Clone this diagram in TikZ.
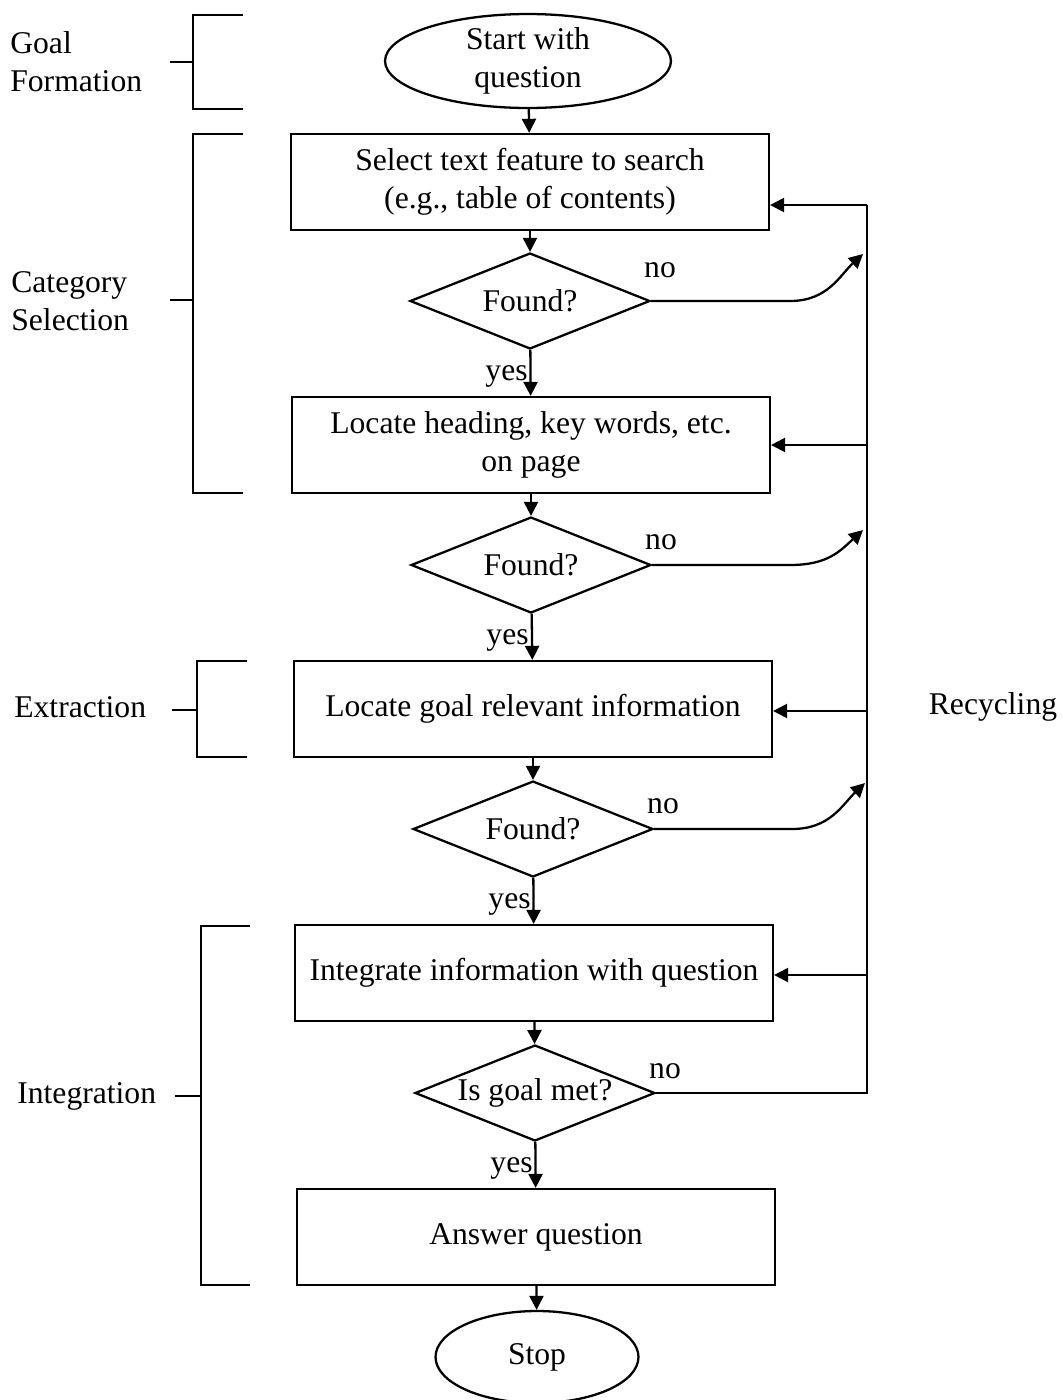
\documentclass[tikz,border=0pt]{standalone}
\usepackage{fontspec}
\setmainfont{Liberation Serif}
\usetikzlibrary{shapes.geometric,arrows.meta}
\begin{document}
\begin{tikzpicture}[x=0.02cm,y=-0.02cm,
  every node/.style={font=\fontsize{18}{21.5}\selectfont, align=center, inner sep=0pt},
  line/.style={line width=1.3pt},
  arr/.style={line width=1.3pt,-{Triangle[length=8pt,width=8pt]}},
  stepbox/.style={draw, line width=1.3pt, rectangle, minimum width=9.56cm, minimum height=1.92cm},
  decide/.style={draw, line width=1.3pt, diamond, aspect=2.5, minimum width=4.8cm, minimum height=1.92cm},
  terminal/.style={draw, line width=1.3pt, ellipse},
  lbl/.style={font=\fontsize{18}{21.5}\selectfont}]
\useasboundingbox (0,0) rectangle (1062,1400);

% main flow
\node[terminal, minimum width=5.72cm, minimum height=1.76cm] (start) at (528,61) {Start with\\question};
\node[stepbox] (b1) at (530,182) {Select text feature to search\\(e.g., table of contents)};
\node[decide] (d1) at (530,301) {Found?};
\node[stepbox] (b2) at (531,445) {Locate heading, key words, etc.\\on page};
\node[decide] (d2) at (531,565) {Found?};
\node[stepbox] (b3) at (533,709) {\strut Locate goal relevant information};
\node[decide] (d3) at (533,829) {Found?};
\node[stepbox] (b4) at (534,973) {\strut Integrate information with question};
\node[decide] (d4) at (535,1093) {Is goal met?};
\node[stepbox] (b5) at (536,1237) {\strut Answer question};
\node[terminal, minimum width=4.06cm, minimum height=1.84cm] (stop) at (537,1357) {Stop};

\draw[arr] (start) -- (b1);
\draw[arr] (b1) -- (d1);
\draw[arr] (d1) -- (b2);
\draw[arr] (b2) -- (d2);
\draw[arr] (d2) -- (b3);
\draw[arr] (b3) -- (d3);
\draw[arr] (d3) -- (b4);
\draw[arr] (b4) -- (d4);
\draw[arr] (d4) -- (b5);
\draw[arr] (b5) -- (stop);

% yes / no labels
\node[lbl, anchor=south east] (y1) at (528,388) {yes};
\node[lbl, anchor=south east] (y2) at (529,652) {yes};
\node[lbl, anchor=south east] (y3) at (531,916) {yes};
\node[lbl, anchor=south east] (y4) at (533,1180) {yes};
\node[lbl] (n1) at (660,270) {no};
\node[lbl] (n2) at (661,542) {no};
\node[lbl] (n3) at (663,806) {no};
\node[lbl] (n4) at (665,1071) {no};

% recycling loop
\coordinate (rtop) at (867,205);
\coordinate (rbot) at (867,1093);
\coordinate (r2) at (867,445);
\coordinate (r3) at (867,711);
\coordinate (r4) at (867,975);
\coordinate (e1) at (863,254);
\coordinate (e2) at (863,530);
\coordinate (e3) at (865,783);
\draw[line] (d4.east) -- (rbot) -- (rtop);
\draw[arr] (rtop) -- (b1.east |- rtop);
\draw[arr] (r2) -- (b2.east |- r2);
\draw[arr] (r3) -- (b3.east |- r3);
\draw[arr] (r4) -- (b4.east |- r4);
\draw[arr] (d1.east) -- (790,301) .. controls (828,301) and (840,275) .. (e1);
\draw[arr] (d2.east) -- (790,565) .. controls (828,565) and (840,551) .. (e2);
\draw[arr] (d3.east) -- (792,829) .. controls (830,829) and (842,805) .. (e3);
\node[lbl] (rec) at (993,707) {Recycling};

% phase brackets
\draw[line] (243,15) -- (193,15) -- (193,109) -- (243,109);
\draw[line] (170,62) -- (193,62);
\node[lbl, anchor=west, align=left] (gf) at (10,62) {Goal\\Formation};

\draw[line] (243,134) -- (193,134) -- (193,493) -- (243,493);
\draw[line] (170,300) -- (193,300);
\node[lbl, anchor=west, align=left] (cs) at (11,301) {Category\\Selection};

\draw[line] (247,661) -- (197,661) -- (197,757) -- (247,757);
\draw[line] (172,710) -- (197,710);
\node[lbl, anchor=west] (ex) at (14,710) {\strut Extraction};

\draw[line] (250,926) -- (201,926) -- (201,1285) -- (250,1285);
\draw[line] (175,1096) -- (201,1096);
\node[lbl, anchor=west] (in) at (17,1096) {\strut Integration};
\end{tikzpicture}
\end{document}
